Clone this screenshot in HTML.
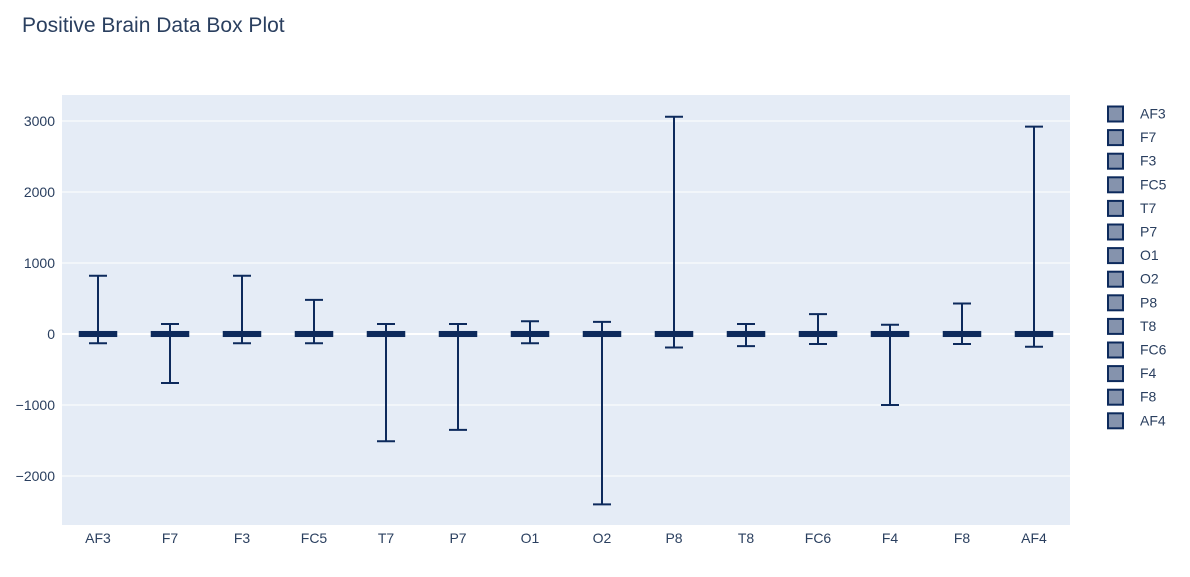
<!DOCTYPE html>
<html><head><meta charset="utf-8"><style>
body{margin:0;background:#fff;font-family:"Liberation Sans",sans-serif}
svg text{font-family:"Liberation Sans",sans-serif}
</style></head><body>
<svg width="1190" height="572" id="chart">
<text x="22" y="32" font-size="21" fill="#2a3f5f">Positive Brain Data Box Plot</text>
<rect x="62" y="95" width="1008" height="430" fill="#e5ecf6"/>
<g id="grid"></g><g id="marks"></g><g id="legend"></g>
</svg>
<script>
const categories=["AF3","F7","F3","FC5","T7","P7","O1","O2","P8","T8","FC6","F4","F8","AF4"];
const maxVals=[820,140,820,480,140,140,180,170,3060,140,280,130,430,2920];
const minVals=[-130,-690,-130,-130,-1510,-1350,-130,-2400,-190,-170,-140,-1000,-140,-180];
const q1Vals=[-25,-25,-25,-25,-25,-25,-25,-25,-25,-25,-25,-25,-25,-25];
const q3Vals=[25,25,25,25,25,25,25,25,25,25,25,25,25,25];
const medVals=[0,0,0,0,0,0,0,0,0,0,0,0,0,0];
const yTicks=[-2000,-1000,0,1000,2000,3000];
const yTickLabels=["\u22122000","\u22121000","0","1000","2000","3000"];
const NS="http://www.w3.org/2000/svg";
const X0=62,W=1008,Y0=95,H=430,ymin=-2690,ymax=3366;
const x=i=>X0+W/categories.length*(i+0.5);
const y=v=>Y0+H*(ymax-v)/(ymax-ymin);
function mk(t,a,p){const e=document.createElementNS(NS,t);for(const k in a)e.setAttribute(k,a[k]);p.appendChild(e);return e;}
const grid=document.getElementById('grid'),marks=document.getElementById('marks'),leg=document.getElementById('legend'),svg=document.getElementById('chart');
yTicks.forEach((t,i)=>{
 const l=mk('line',{x1:X0,x2:X0+W,y1:y(t),y2:y(t),stroke:'#fff','stroke-width':t===0?2:1},grid);
 
 
 const tx=mk('text',{x:55,y:y(t)+5,'text-anchor':'end','font-size':14,fill:'#2a3f5f'},svg);
 tx.textContent=yTickLabels[i];
 
 
});
categories.forEach((c,i)=>{
 const g=mk('g',{},marks);
 
 
 const cx=x(i),st='#0d2a5c';
 mk('line',{x1:cx,x2:cx,y1:y(maxVals[i]),y2:y(minVals[i]),stroke:st,'stroke-width':2},g);
 mk('line',{x1:cx-9,x2:cx+9,y1:y(maxVals[i]),y2:y(maxVals[i]),stroke:st,'stroke-width':2},g);
 mk('line',{x1:cx-9,x2:cx+9,y1:y(minVals[i]),y2:y(minVals[i]),stroke:st,'stroke-width':2},g);
 mk('rect',{x:cx-18,y:y(q3Vals[i]),width:36,height:Math.max(y(q1Vals[i])-y(q3Vals[i]),1),fill:st,stroke:st,'stroke-width':2.5},g);
 mk('line',{x1:cx-18,x2:cx+18,y1:y(medVals[i]),y2:y(medVals[i]),stroke:st,'stroke-width':2},g);
 const tx=mk('text',{x:cx,y:543,'text-anchor':'middle','font-size':14,fill:'#2a3f5f'},svg);
 tx.textContent=c;
 
 
 const ly=113.5+i*23.6;
 const li=mk('g',{},leg);
 
 
 mk('rect',{x:1108,y:ly-7,width:15,height:15,fill:'#8593ad',stroke:st,'stroke-width':2},li);
 const lt=mk('text',{x:1140,y:ly+5,'font-size':14,fill:'#2a3f5f'},li);
 lt.textContent=c;
});
</script>
</body></html>
